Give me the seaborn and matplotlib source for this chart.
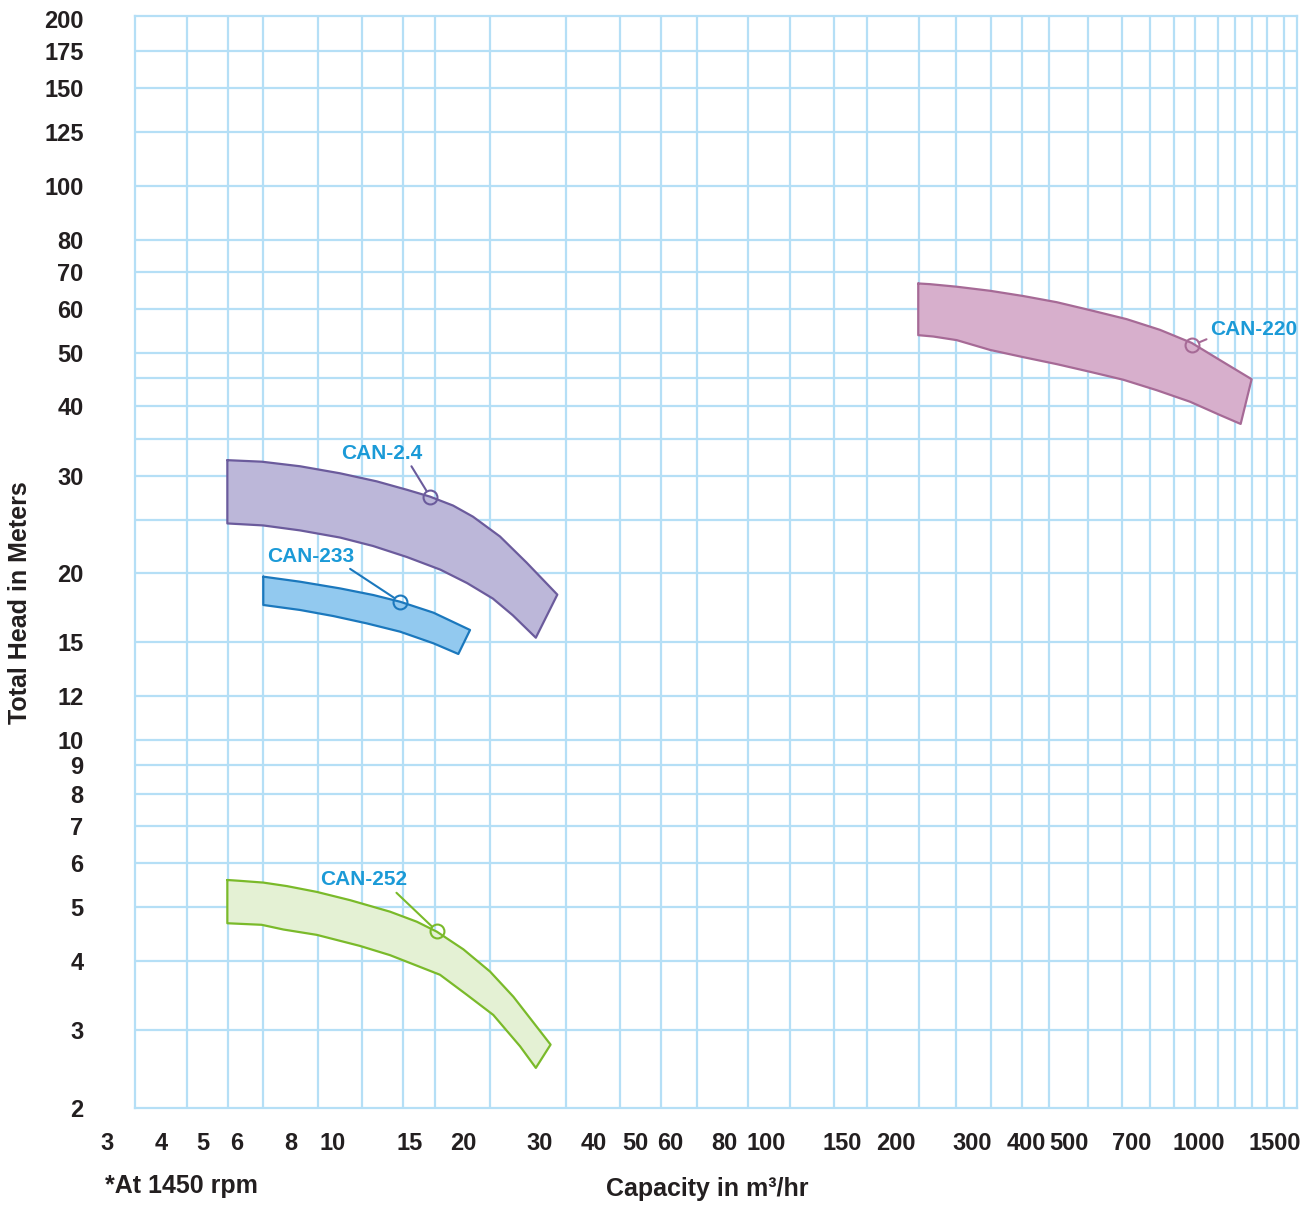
#!/usr/bin/env python
"""
Pump selection chart: head vs capacity bands for the CAN range (log-log grid).
"""

# ---------- PREP
import numpy as np
import seaborn as sns
import matplotlib
matplotlib.use("Agg")
import matplotlib.pyplot as plt
from matplotlib.ticker import FixedLocator, NullFormatter

# ---------- DATA (capacity in m3/hr, head in m)
# CAN-2.4
can24_top_q = [5.7, 6.84, 8.39, 10.38, 12.62, 14.8, 16.75, 18.93, 21.05, 24.3, 28.0, 32.96]
can24_top_h = [32.0, 31.8, 31.2, 30.3, 29.3, 28.3, 27.5, 26.5, 25.3, 23.3, 20.9, 18.3]
can24_bot_q = [5.7, 6.89, 8.39, 10.38, 12.37, 14.8, 17.7, 20.4, 23.4, 26.0, 29.4]
can24_bot_h = [24.6, 24.4, 23.9, 23.2, 22.4, 21.4, 20.3, 19.2, 18.0, 16.8, 15.3]

# CAN-233
can233_top_q = [6.9, 8.39, 10.38, 12.39, 14.28, 17.05, 20.72]
can233_top_h = [19.72, 19.31, 18.78, 18.27, 17.77, 16.98, 15.80]
can233_bot_q = [6.9, 8.39, 10.02, 11.96, 14.28, 17.05, 19.47]
can233_bot_h = [17.53, 17.17, 16.74, 16.24, 15.69, 14.95, 14.30]

# CAN-252
can252_top_q = [5.7, 6.1, 6.9, 7.82, 9.17, 10.95, 13.54, 15.61, 17.36, 20.0, 23.05, 26.1, 31.8]
can252_top_h = [5.59, 5.57, 5.53, 5.45, 5.32, 5.14, 4.90, 4.70, 4.51, 4.19, 3.82, 3.44, 2.82]
can252_bot_q = [5.7, 6.84, 7.68, 9.17, 11.54, 13.54, 14.8, 17.66, 20.36, 23.45, 27.04, 29.4]
can252_bot_h = [4.67, 4.64, 4.55, 4.45, 4.25, 4.09, 3.98, 3.77, 3.47, 3.19, 2.80, 2.56]

# CAN-220
can220_top_q = [224.7, 239.2, 275.7, 329.1, 392.8, 469.2, 560.2, 680.8, 812.7, 961.8, 1118, 1323]
can220_top_h = [66.7, 66.5, 65.8, 64.7, 63.3, 61.7, 59.7, 57.5, 55.0, 52.1, 48.5, 44.8]
can220_bot_q = [224.7, 243.4, 275.7, 329.1, 392.8, 469.2, 560.2, 668.7, 798.6, 953.3, 1118, 1248]
can220_bot_h = [53.8, 53.5, 52.7, 50.6, 49.1, 47.7, 46.2, 44.7, 42.8, 40.8, 38.6, 37.2]

# Model names, marked duty points and label anchors
models  = ["CAN-2.4", "CAN-233", "CAN-252", "CAN-220"]
point_q = [16.75, 14.28, 17.36, 965]
point_h = [27.5, 17.77, 4.52, 51.6]
label_q = [12.96, 8.90, 11.75, 1335]
label_h = [32.9, 21.48, 5.59, 55.1]

# Axis tick labels
x_ticks = [4, 5, 6, 8, 10, 15, 20, 30, 40, 50, 60, 80, 100, 150, 200, 300, 400, 500, 700, 1000, 1500]
y_ticks = [3, 4, 5, 6, 7, 8, 9, 10, 12, 15, 20, 30, 40, 50, 60, 70, 80, 100, 125, 150, 175, 200]

# Chart paper grid lines
x_grid = [4.6, 5.72, 6.89, 9.23, 11.67, 14.51, 17.2, 23.05, 34.5, 46.0, 57.2, 69.3, 90.9,
          113.6, 143.6, 171.2, 225.6, 274.7, 330.8, 390, 450, 554, 664, 770, 876, 979,
          1106, 1211, 1326, 1436, 1572]
y_grid = [3, 4, 5, 6, 7, 8, 9, 10, 12, 15, 20, 25, 30, 35, 40, 45, 50, 60, 70, 80, 100, 125, 150, 175]

bands = [
    (can24_top_q, can24_top_h, can24_bot_q, can24_bot_h),
    (can233_top_q, can233_top_h, can233_bot_q, can233_bot_h),
    (can252_top_q, can252_top_h, can252_bot_q, can252_bot_h),
    (can220_top_q, can220_top_h, can220_bot_q, can220_bot_h),
]

# ---------- STYLE
fills = ["#bcb7d9", "#92c9ef", "#e4f1d4", "#d7afcc"]
edges = ["#6b5b9c", "#1b78bd", "#7aba2a", "#a66a96"]
relpos = [(0.84, 0.0), (0.89, 0.0), (0.84, 0.0), (0.05, 0.15)]
grid_col = "#b5dff6"
text_col = "#231f20"
label_col = "#1b9ad7"

sns.set_theme(style="white")
plt.rcParams["font.family"] = ["Liberation Sans", "DejaVu Sans"]
plt.rcParams["font.weight"] = "bold"

fig = plt.figure(figsize=(13.16, 12.05), dpi=100)
ax = fig.add_axes([0.10258, 0.08050, 0.88298, 0.90622])
ax.set_xscale("log")
ax.set_yscale("log")
ax.set_xlim(3.488, 1684)
ax.set_ylim(2.167, 202.7)

# ---------- GRID (drawn as the chart paper, below everything)
for gx in x_grid:
    ax.axvline(gx, color=grid_col, lw=1.6, zorder=0)
for gy in y_grid:
    ax.axhline(gy, color=grid_col, lw=1.6, zorder=0)

# ---------- BANDS
for (tq, th, bq, bh), fc, ec in zip(bands, fills, edges):
    poly_q = list(tq) + list(bq[::-1]) + [tq[0]]
    poly_h = list(th) + list(bh[::-1]) + [th[0]]
    ax.fill(poly_q, poly_h, color=fc, zorder=2, lw=0)
    sns.lineplot(x=poly_q, y=poly_h, sort=False, estimator=None, color=ec,
                 lw=1.6, ax=ax, zorder=3)

# Duty points and model labels
for i, name in enumerate(models):
    ax.plot(point_q[i], point_h[i], "o", ms=10, mfc="none", mec=edges[i], mew=1.5, zorder=4)
    ax.annotate(name, xy=(point_q[i], point_h[i]), xytext=(label_q[i], label_h[i]),
                ha="center", va="center", fontsize=15, fontweight="bold", color=label_col,
                zorder=5,
                arrowprops=dict(arrowstyle="-", color=edges[i], lw=1.5,
                                relpos=relpos[i], shrinkA=0, shrinkB=5))

# ---------- AXES
ax.xaxis.set_minor_formatter(NullFormatter())
ax.yaxis.set_minor_formatter(NullFormatter())
ax.xaxis.set_minor_locator(FixedLocator([]))
ax.yaxis.set_minor_locator(FixedLocator([]))
ax.set_xticks(x_ticks)
ax.set_xticklabels([str(v) for v in x_ticks])
ax.set_yticks(y_ticks)
ax.set_yticklabels([str(v) for v in y_ticks])
ax.grid(False)
ax.tick_params(which="both", length=0)
ax.tick_params(axis="x", which="major", pad=17, labelsize=17, labelcolor=text_col)
ax.tick_params(axis="y", which="major", pad=37, labelsize=17, labelcolor=text_col)
for lab in ax.get_xticklabels() + ax.get_yticklabels():
    lab.set_fontweight("bold")
for sp in ax.spines.values():
    sp.set_color(grid_col)
    sp.set_linewidth(1.6)

# Labels outside the plotted range
ax.annotate("3", xy=(3, 0), xycoords=ax.get_xaxis_transform(), xytext=(0, -17),
            textcoords="offset points", ha="center", va="top", fontsize=17,
            fontweight="bold", color=text_col, annotation_clip=False)
ax.annotate("2", xy=(0, 0), xycoords="axes fraction", xytext=(-37, -2),
            textcoords="offset points", ha="right", va="center", fontsize=17,
            fontweight="bold", color=text_col, annotation_clip=False)

fig.text(20 / 1316, 1 - 603 / 1205, "Total Head in Meters", rotation=90, ha="center",
         va="center", fontsize=18, fontweight="bold", color=text_col)
fig.text(707 / 1316, 1 - 1189 / 1205, "Capacity in m³/hr", ha="center", va="center",
         fontsize=18, fontweight="bold", color=text_col)
fig.text(105 / 1316, 1 - 1186 / 1205, "*At 1450 rpm", ha="left", va="center",
         fontsize=18, fontweight="bold", color=text_col)

fig.savefig("out.png", dpi=100)
